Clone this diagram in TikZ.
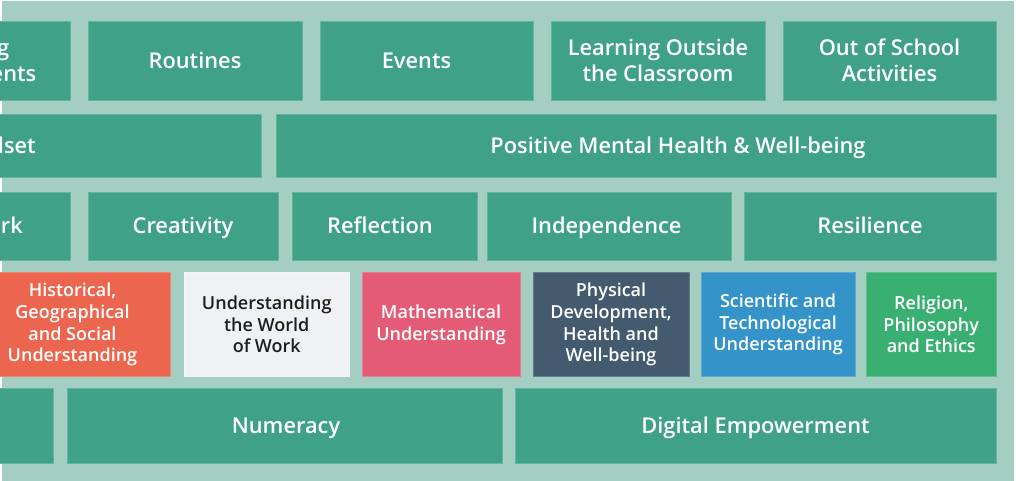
\documentclass[tikz,border=0pt]{standalone}
\usepackage{fontspec}
\IfFontExistsTF{Open Sans Semibold}{\setmainfont{Open Sans Semibold}}{%
 \IfFontExistsTF{OpenSans-Semibold.ttf}{\setmainfont{OpenSans-Semibold.ttf}}{%
  \IfFontExistsTF{OpenSans-SemiBold.ttf}{\setmainfont{OpenSans-SemiBold.ttf}}{%
   \IfFontExistsTF{OpenSans-Semibold.otf}{\setmainfont{OpenSans-Semibold.otf}}{%
    \IfFontExistsTF{OpenSans-SemiBold.otf}{\setmainfont{OpenSans-SemiBold.otf}}{%
     \setmainfont{Open Sans}}}}}}
\definecolor{bgc}{HTML}{A4CEC2}
\definecolor{tealc}{HTML}{3FA185}
\definecolor{coralc}{HTML}{EC654F}
\definecolor{whitec}{HTML}{EFF2F3}
\definecolor{pinkc}{HTML}{E45B76}
\definecolor{slatec}{HTML}{435A6F}
\definecolor{bluec}{HTML}{3493C9}
\definecolor{greenc}{HTML}{3AAF72}
\definecolor{darktext}{HTML}{1E1E1E}
\newcommand\fbig{\fontsize{21.8}{26}\selectfont}
\newcommand\fsmall{\fontsize{18}{21.7}\selectfont}
\begin{document}
\begin{tikzpicture}[x=1pt,y=-1pt,
  cell/.style={fill=#1, draw=#1!80!white, line width=0.8pt, inner sep=0pt,
    align=center, text=white, font=\fbig},
  txt/.style={inner sep=0pt, align=center, text=white, font=\fbig},
  one/.style={text height=15.6pt, text depth=0pt}]
\useasboundingbox (0,0) rectangle (1016,481);
\fill[white] (0,0) rectangle (1016,481);
\fill[bgc] (2,1) rectangle (1014,481);
\clip (0,0) rectangle (1016,481);
% row 1
\node[cell=tealc, minimum width=270, minimum height=79] (lenv) at (-65,60.5) {};
\node[txt, anchor=east] (lenvt) at (36.5,60.5) {Learning\\Environments};
\node[cell=tealc, one, minimum width=214, minimum height=79] (routines) at (195,60.5) {Routines};
\node[cell=tealc, minimum width=213, minimum height=79] (events) at (426.5,60.5) {};
\node[txt, one] (eventst) at (416.5,60.5) {Events};
\node[cell=tealc, minimum width=214, minimum height=79] (lotc) at (658,60.5) {Learning Outside\\the Classroom};
\node[cell=tealc, minimum width=213, minimum height=79] (oosa) at (889.5,60.5) {Out of School\\Activities};
% row 2
\node[cell=tealc, minimum width=461, minimum height=63] (mind) at (30.5,145.5) {};
\node[txt, one, anchor=east] (mindt) at (36,145.5) {Growth Mindset};
\node[cell=tealc, minimum width=720, minimum height=63] (pmh) at (636,145.5) {};
\node[txt, one] (pmht) at (678,145.5) {Positive Mental Health \& Well-being};
% row 3
\node[cell=tealc, minimum width=270, minimum height=68] (team) at (-65,226) {};
\node[txt, one, anchor=east] (teamt) at (23,226) {Teamwork};
\node[cell=tealc, one, minimum width=190, minimum height=68] (creativity) at (183,226) {Creativity};
\node[cell=tealc, minimum width=185, minimum height=68] (reflection) at (385,226) {};
\node[txt, one] (reflectiont) at (380,226) {Reflection};
\node[cell=tealc, minimum width=244.5, minimum height=68] (independence) at (609.25,226) {};
\node[txt, one] (independencet) at (606.5,226) {Independence};
\node[cell=tealc, one, minimum width=252, minimum height=68] (resilience) at (870,226) {Resilience};
% row 4
\node[cell=coralc, font=\fsmall, minimum width=195, minimum height=103.5] (hist) at (72.5,324.5) {Historical,\\Geographical\\and Social\\Understanding};
\node[cell=whitec, font=\fsmall, text=darktext, minimum width=165.5, minimum height=103.5] (work) at (266.75,324.5) {Understanding\\the World\\of Work};
\node[cell=pinkc, font=\fsmall, minimum width=158, minimum height=103.5] (math) at (441,324.5) {Mathematical\\Understanding};
\node[cell=slatec, font=\fsmall, minimum width=156, minimum height=103.5] (phys) at (611,324.5) {Physical\\Development,\\Health and\\Well-being};
\node[cell=bluec, font=\fsmall, minimum width=154, minimum height=103.5] (sci) at (778,324.5) {Scientific and\\Technological\\Understanding};
\node[cell=greenc, font=\fsmall, minimum width=129.5, minimum height=103.5] (rel) at (931.25,324.5) {Religion,\\Philosophy\\and Ethics};
% row 5
\node[cell=tealc, minimum width=253, minimum height=75] (lit) at (-73.5,425.5) {};
\node[cell=tealc, minimum width=435, minimum height=75] (numeracy) at (284.5,425.5) {};
\node[txt, one] (numeracyt) at (286,425.5) {Numeracy};
\node[cell=tealc, one, minimum width=481, minimum height=75] (digital) at (755.5,425.5) {Digital Empowerment};
\end{tikzpicture}
\end{document}
